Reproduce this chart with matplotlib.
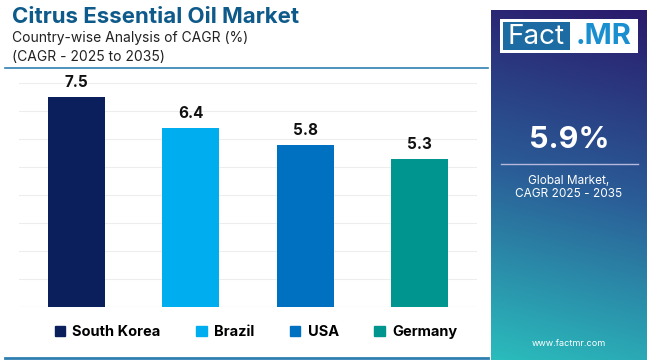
import matplotlib
matplotlib.use("Agg")
import matplotlib.pyplot as plt
import numpy as np
from matplotlib.patches import Rectangle
from matplotlib.colors import LinearSegmentedColormap

# data
countries = ["South Korea", "Brazil", "USA", "Germany"]
cagr = [7.5, 6.4, 5.8, 5.3]
bar_colors = ["#0b1f5c", "#00aeef", "#0070c0", "#00968f"]
global_cagr = "5.9%"

FONT = "Inter"
W, H = 650, 360
fig = plt.figure(figsize=(6.5, 3.6), dpi=100)
fig.patch.set_facecolor("white")


def fx(px):
    return px / W


def fy(py):
    return 1 - py / H


# title block
fig.text(fx(12), fy(17), "Citrus Essential Oil Market", fontsize=16, fontweight="bold",
         color="#0e5a8a", family=FONT, va="center")
fig.text(fx(12), fy(38), "Country-wise Analysis of CAGR (%)", fontsize=10,
         color="#222222", family=FONT, va="center")
fig.text(fx(12), fy(57), "(CAGR - 2025 to 2035)", fontsize=10,
         color="#222222", family=FONT, va="center")
fig.add_artist(plt.Line2D([fx(5), fx(488)], [fy(68), fy(68)], color="#2f7fb0", lw=1.2))
fig.add_artist(plt.Line2D([fx(5), fx(488)], [fy(358), fy(358)], color="#2f7fb0", lw=2))

# bar chart
ax = fig.add_axes([fx(19), fy(307), fx(477) - fx(19), (307 - 83) / H])
x = np.arange(len(countries))
ax.bar(x, cagr, width=0.5, color=bar_colors, zorder=3)
for xi, v in zip(x, cagr):
    ax.text(xi, v + 0.25, f"{v}", ha="center", va="bottom", fontsize=11,
            fontweight="bold", color="#111111", family=FONT)
ax.set_xlim(-0.5, 3.5)
ax.set_ylim(0, 8)
ax.set_yticks(np.arange(0, 9, 1))
ax.grid(axis="y", color="#ededed", lw=0.8, zorder=0)
ax.tick_params(left=False, bottom=False, labelleft=False, labelbottom=False)
for s in ax.spines.values():
    s.set_visible(False)
ax.axhline(0, color="#e6e6e6", lw=0.8, zorder=2)

# legend
handles = [Rectangle((0, 0), 1, 1, color=c) for c in bar_colors]
fig.legend(handles, countries, loc="center", bbox_to_anchor=(fx(256), fy(332)), ncol=4,
           frameon=False, handlelength=0.7, handleheight=0.7, handletextpad=0.5,
           columnspacing=2.45, prop={"family": FONT, "weight": "bold", "size": 10.5})

# right panel with gradient
pax = fig.add_axes([fx(491), 0, fx(647) - fx(491), fy(10)])
cmap = LinearSegmentedColormap.from_list("panel", ["#2a1a6c", "#2a5d97", "#2bbcbc"])
gy, gx = np.mgrid[0:1:200j, 0:1:60j]
grad = np.clip(gy * 0.9 + (1 - gx) * 0.1, 0, 1)
pax.imshow(grad, cmap=cmap, aspect="auto", extent=[0, 1, 1, 0], origin="upper")
pax.set_xlim(0, 1)
pax.set_ylim(1, 0)
pax.axis("off")

# logo
fig.patches.append(Rectangle((fx(500), fy(53)), fx(638) - fx(500), (53 - 19) / H,
                             transform=fig.transFigure, facecolor="white", edgecolor="none"))
fig.patches.append(Rectangle((fx(503), fy(50)), fx(570) - fx(503), (50 - 22) / H,
                             transform=fig.transFigure, facecolor="#1c6ca3", edgecolor="none"))
fig.text(fx(536), fy(37), "Fact", fontsize=20, color="white", family=FONT,
         ha="center", va="center")
fig.text(fx(604), fy(37), ".MR", fontsize=21, color="#1a8fd0", family=FONT,
         fontweight="bold", ha="center", va="center")

fig.text(fx(569), fy(140), global_cagr, fontsize=22, fontweight="bold", color="white",
         family=FONT, ha="center", va="center")
fig.add_artist(plt.Line2D([fx(501), fx(638)], [fy(164), fy(164)], color="#b8b8dc", lw=1))
fig.text(fx(569), fy(181), "Global Market,", fontsize=8.5, color="white", family=FONT,
         ha="center", va="center")
fig.text(fx(569), fy(194), "CAGR 2025 - 2035", fontsize=8.5, color="white", family=FONT,
         ha="center", va="center")
fig.text(fx(569), fy(343), "www.factmr.com", fontsize=6.5, color="white", family=FONT,
         ha="center", va="center")

fig.savefig("out.png", dpi=100)
